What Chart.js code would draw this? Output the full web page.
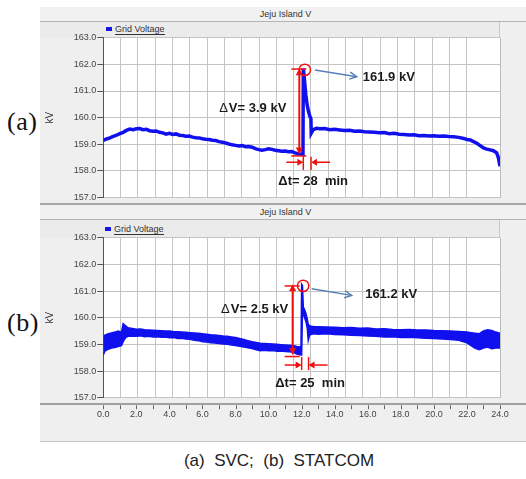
<!DOCTYPE html>
<html><head><meta charset="utf-8">
<script src="https://cdn.jsdelivr.net/npm/chart.js@4/dist/chart.umd.min.js"></script>
<style>
html,body{margin:0;padding:0;background:#fff;}
body{width:526px;height:479px;position:relative;overflow:hidden;font-family:"Liberation Sans",Arial,sans-serif;}
.abs{position:absolute;}
#frame{left:40px;top:7px;width:486px;height:434px;background:#efefef;border-bottom:1px solid #c4c4c4;}
.title{left:40px;width:486px;height:14px;line-height:14px;font-size:9px;color:#333;text-align:center;border-bottom:1px solid #b4b4b4;background:#f1f1f1;text-indent:5px;}
.strip{left:40px;width:459px;background:#ebebeb;border-right:1px solid #c8c8c8;}
.sep{left:40px;width:486px;background:#a6a6a6;}
.leg{font-size:9px;color:#333;line-height:10px;}
.leg .sq{position:absolute;left:0;top:3px;width:6px;height:4px;background:#1414e6;}
.leg .tx{position:absolute;left:9px;top:0;white-space:nowrap;border-bottom:1px solid #333;}
.plabel{left:7px;font-family:"Liberation Serif","Times New Roman",serif;font-size:26px;letter-spacing:0.5px;color:#111;line-height:26px;}
#caption{left:0;width:558px;top:451px;text-align:center;font-size:17px;color:#222;white-space:pre;}
</style>
</head><body>
<div id="frame" class="abs"></div>
<div class="abs title" id="titleA" style="top:7px"></div>
<div class="abs strip" style="top:22px;height:16px"></div>
<div class="abs leg" id="legA" style="left:106px;top:24px"></div>
<div class="abs sep" style="top:203px;height:1.5px"></div>
<div class="abs title" id="titleB" style="top:205px"></div>
<div class="abs strip" style="top:220px;height:18px"></div>
<div class="abs leg" id="legB" style="left:105px;top:224px"></div>
<div class="abs sep" style="top:403px;height:2px;background:#a0a0a0"></div>
<div class="abs plabel" id="labA" style="top:109px"></div>
<div class="abs plabel" id="labB" style="top:310px"></div>
<div class="abs" style="left:40px;top:28px;width:486px;height:176px"><canvas id="cA" width="486" height="176"></canvas></div>
<div class="abs" style="left:40px;top:228px;width:486px;height:200px"><canvas id="cB" width="486" height="200"></canvas></div>
<div class="abs" id="caption"></div>
<script>
// ---------------- data ----------------
const chartTitle = 'Jeju Island V';
const seriesLabel = 'Grid Voltage';
const yAxisLabel = 'kV';
const panelLabels = ['(a)', '(b)'];
const captionText = '(a)  SVC;  (b)  STATCOM';
const peakValues = [161.9, 161.2];   // kV
const deltaV = [3.9, 2.5];           // kV
const deltaT = [28, 25];             // min
const yMin = 157, yMax = 163, xMin = 0, xMax = 24;

// (a) SVC: time (h) and grid voltage (kV)
const tA = [0.00,0.20,0.40,0.60,0.80,1.00,1.20,1.40,1.60,1.80,2.00,2.20,2.40,2.60,2.80,3.00,3.20,3.40,3.60,3.80,
  4.00,4.20,4.40,4.60,4.80,5.00,5.20,5.40,5.60,5.80,6.00,6.20,6.40,6.60,6.80,7.00,7.20,7.40,7.60,7.80,
  8.00,8.20,8.40,8.60,8.80,9.00,9.20,9.40,9.60,9.80,10.00,10.20,10.40,10.60,10.80,11.00,11.20,11.40,11.60,11.80,
  12.00,12.08,12.10,12.18,12.26,12.34,12.42,12.50,12.56,12.58,12.70,12.90,13.10,13.40,13.70,14.00,14.30,14.60,14.90,15.20,
  15.50,15.80,16.10,16.40,16.70,17.00,17.30,17.60,17.90,18.20,18.50,18.80,19.10,19.40,19.70,20.00,20.30,20.60,20.90,21.20,
  21.50,21.80,22.00,22.20,22.40,22.60,22.80,23.00,23.20,23.40,23.60,23.80,23.90,24.00];
const vA = [159.15,159.20,159.24,159.30,159.34,159.40,159.45,159.52,159.57,159.55,159.58,159.59,159.55,159.56,159.51,159.49,159.50,159.45,159.43,159.38,
  159.41,159.37,159.39,159.34,159.33,159.30,159.31,159.27,159.25,159.24,159.21,159.19,159.18,159.15,159.14,159.10,159.08,159.05,159.01,158.98,
  158.96,158.94,158.95,158.91,158.92,158.89,158.84,158.80,158.78,158.80,158.83,158.81,158.78,158.76,158.74,158.75,158.72,158.73,158.68,158.64,
  158.63,158.62,161.85,161.35,160.80,160.45,160.22,160.05,159.96,159.42,159.55,159.60,159.58,159.59,159.55,159.56,159.54,159.52,159.53,159.49,
  159.50,159.47,159.46,159.45,159.43,159.44,159.40,159.41,159.38,159.37,159.35,159.36,159.32,159.33,159.31,159.32,159.30,159.31,159.29,159.28,
  159.26,159.22,159.18,159.16,159.10,159.04,158.95,158.86,158.82,158.79,158.76,158.68,158.50,158.18];

// (b) STATCOM: time (h), lower and upper envelope of the noisy voltage band (kV)
const tB = [0.00,0.10,0.30,0.50,0.70,0.90,1.10,1.20,1.35,1.50,1.75,2.00,2.25,2.50,2.75,3.00,3.25,3.50,3.75,4.00,
  4.25,4.50,4.75,5.00,5.25,5.50,5.75,6.00,6.25,6.50,6.75,7.00,7.25,7.50,7.75,8.00,8.25,8.50,8.75,9.00,
  9.25,9.50,9.75,10.00,10.25,10.50,10.75,11.00,11.25,11.50,11.70,11.96,12.00,12.05,12.10,12.18,12.26,12.34,12.40,12.48,
  12.60,12.80,13.00,13.50,14.00,14.50,15.00,15.50,16.00,16.50,17.00,17.50,18.00,18.50,19.00,19.50,20.00,20.50,21.00,21.50,
  22.00,22.25,22.50,22.75,23.00,23.25,23.50,23.75,24.00];
const lowB = [158.60,158.75,158.82,158.86,158.88,158.92,158.95,159.10,159.25,159.30,159.31,159.30,159.32,159.29,159.30,159.28,159.29,159.27,159.28,159.25,
  159.26,159.22,159.23,159.20,159.19,159.15,159.14,159.10,159.09,159.06,159.05,159.03,159.01,159.00,158.98,158.96,158.93,158.90,158.87,158.84,
  158.80,158.76,158.78,158.76,158.77,158.74,158.75,158.73,158.72,158.70,158.64,158.60,158.60,160.20,160.15,160.00,159.85,159.60,159.15,159.35,
  159.38,159.40,159.38,159.40,159.37,159.36,159.34,159.33,159.31,159.30,159.28,159.29,159.26,159.27,159.25,159.23,159.22,159.20,159.18,159.15,
  159.06,158.95,158.85,158.80,158.86,158.90,158.84,158.86,158.86];
const highB = [159.30,159.35,159.40,159.43,159.46,159.50,159.46,159.78,159.70,159.62,159.60,159.57,159.58,159.55,159.54,159.53,159.52,159.51,159.50,159.50,
  159.48,159.47,159.46,159.45,159.44,159.43,159.42,159.40,159.38,159.36,159.35,159.33,159.31,159.30,159.28,159.26,159.22,159.18,159.14,159.10,
  159.07,159.04,159.03,159.02,159.01,159.00,158.99,158.98,158.97,158.96,158.92,158.90,161.25,161.20,160.40,160.30,160.15,159.95,159.75,159.70,
  159.68,159.66,159.66,159.65,159.64,159.62,159.63,159.60,159.61,159.58,159.59,159.56,159.55,159.56,159.54,159.54,159.52,159.51,159.50,159.48,
  159.46,159.44,159.42,159.40,159.50,159.55,159.52,159.46,159.42];

// ---------------- page text ----------------
document.getElementById('titleA').textContent = chartTitle;
document.getElementById('titleB').textContent = chartTitle;
for (const id of ['legA','legB']) {
  document.getElementById(id).innerHTML = '<span class="sq"></span><span class="tx"></span>';
  document.querySelector('#'+id+' .tx').textContent = seriesLabel;
}
document.getElementById('labA').textContent = panelLabels[0];
document.getElementById('labB').textContent = panelLabels[1];
document.getElementById('caption').textContent = captionText;

// ---------------- helpers ----------------
const FONT = '"Liberation Sans", Arial, sans-serif';
const RED = '#f01010', BLUE = '#1010ee', STEEL = '#5a7fb6', GRID = '#c4c4c4';

function head(ctx, x1, y1, x2, y2, len, half, filled) {
  const a = Math.atan2(y2 - y1, x2 - x1);
  const bx = x2 - len * Math.cos(a), by = y2 - len * Math.sin(a);
  const px = -Math.sin(a) * half, py = Math.cos(a) * half;
  ctx.beginPath();
  ctx.moveTo(bx + px, by + py); ctx.lineTo(x2, y2); ctx.lineTo(bx - px, by - py);
  if (filled) { ctx.closePath(); ctx.fill(); } else ctx.stroke();
}
function seg(ctx, x1, y1, x2, y2) { ctx.beginPath(); ctx.moveTo(x1, y1); ctx.lineTo(x2, y2); ctx.stroke(); }

const whiteArea = {
  id: 'whiteArea',
  beforeDraw(chart) {
    const {ctx, chartArea: a} = chart;
    ctx.save(); ctx.fillStyle = '#fff'; ctx.fillRect(a.left, a.top, a.right - a.left, a.bottom - a.top); ctx.restore();
  },
  afterDatasetsDraw(chart) {
    const {ctx, chartArea: a} = chart;
    ctx.save(); ctx.strokeStyle = '#bcbcbc'; ctx.lineWidth = 1;
    seg(ctx, a.right + 0.5, a.top, a.right + 0.5, a.bottom); ctx.restore();
  }
};

const hourTicks = {
  id: 'hourTicks',
  afterDraw(chart, args, o) {
    if (!o.show) return;
    const {ctx, chartArea: a} = chart; const xs = chart.scales.x;
    ctx.save(); ctx.strokeStyle = '#666'; ctx.lineWidth = 1;
    for (let h = xMin; h <= xMax; h++) {
      const x = Math.round(xs.getPixelForValue(h)) + 0.5;
      seg(ctx, x, a.bottom + 7.5, x, a.bottom + 11.5);
    }
    ctx.restore();
  }
};

const ann = {
  id: 'ann',
  afterDatasetsDraw(chart, args, o) {
    const {ctx} = chart; const xs = chart.scales.x, ys = chart.scales.y;
    const px = xs.getPixelForValue(o.tPeak), py = ys.getPixelForValue(o.vPeak);
    const by = ys.getPixelForValue(o.vBase);
    ctx.save();
    // delta V double arrow
    const ax = px + o.arrowDx;
    ctx.strokeStyle = RED; ctx.fillStyle = RED; ctx.lineWidth = 2;
    seg(ctx, ax, py + 5, ax, by - 5);
    head(ctx, ax, by, ax, py, 7, 3.5, true);
    head(ctx, ax, py, ax, by, 7, 3.5, true);
    ctx.lineWidth = 1.5;
    seg(ctx, ax - 8, py + o.tickDy, ax + 7, py + o.tickDy);
    seg(ctx, ax - 8, by + 1.5, ax + 7, by + 1.5);
    // circle at peak
    ctx.beginPath(); ctx.arc(px + 1.5, py + 1.5, 5.7, 0, Math.PI * 2); ctx.stroke();
    // pointer arrow
    ctx.strokeStyle = STEEL; ctx.lineWidth = 1.5;
    const [b1x, b1y, b2x, b2y] = o.blue;
    seg(ctx, px + b1x, py + b1y, px + b2x, py + b2y);
    head(ctx, px + b1x, py + b1y, px + b2x, py + b2y, 7, 3.5, false);
    // texts
    ctx.fillStyle = '#1a1a1a'; ctx.textBaseline = 'middle';
    ctx.font = 'bold 13px ' + FONT; ctx.textAlign = 'left';
    ctx.fillText(o.peakValue.toFixed(1) + ' kV', px + o.peakDx, py + o.peakDy);
    const rest = 'V= ' + o.dV.toFixed(1) + ' kV';
    const rw = ctx.measureText(rest).width;
    const rx = ax + o.dvDx, ry = py + o.dvDy;
    ctx.textAlign = 'right'; ctx.fillText(rest, rx, ry);
    ctx.font = '13px ' + FONT; ctx.fillText('\u0394', rx - rw - 1, ry);
    // delta t
    const x1 = xs.getPixelForValue(o.tPeak), x2 = xs.getPixelForValue(o.tPeak + o.dT / 60);
    ctx.strokeStyle = RED; ctx.fillStyle = RED; ctx.lineWidth = 1.5;
    seg(ctx, x1, by + o.dtTick[0], x1, by + o.dtTick[1]);
    seg(ctx, x2, by + o.dtTick[0], x2, by + o.dtTick[1]);
    const yy = by + o.dtArrowDy;
    seg(ctx, x1 - 17, yy, x1 - 5, yy); head(ctx, x1 - 17, yy, x1, yy, 6, 3.5, true);
    seg(ctx, x2 + 19, yy, x2 + 5, yy); head(ctx, x2 + 19, yy, x2, yy, 6, 3.5, true);
    ctx.fillStyle = '#1a1a1a'; ctx.font = 'bold 13px ' + FONT; ctx.textAlign = 'center';
    ctx.fillText('\u0394t= ' + o.dT + '  min', (x1 + x2) / 2 + o.dtTextDx, by + o.dtTextDy);
    ctx.restore();
  }
};

function peakOf(ts, vs) {
  let k = 0; vs.forEach((v, i) => { if (v > vs[k]) k = i; });
  let base = Infinity; ts.forEach((t, i) => { if (t >= ts[k] - 1 && t < ts[k]) base = Math.min(base, vs[i]); });
  return {t: ts[k], v: vs[k], base};
}

function makeChart(canvas, datasets, showX, annOpts) {
  return new Chart(canvas, {
    type: 'line',
    data: {datasets},
    plugins: [whiteArea, ann, hourTicks],
    options: {
      responsive: false, animation: false, devicePixelRatio: 1,
      layout: {padding: {left: 0, right: 26, top: 9.7, bottom: showX ? 0 : 6.3}},
      elements: {point: {radius: 0}, line: {tension: 0}},
      plugins: {legend: {display: false}, tooltip: {enabled: false}, ann: annOpts, hourTicks: {show: showX}},
      scales: {
        x: {type: 'linear', min: xMin, max: xMax, position: 'bottom',
          grid: {display: false, drawTicks: false}, border: {display: false},
          ticks: {display: showX, stepSize: 1, autoSkip: false, maxRotation: 0, padding: 11,
            font: {size: 9, family: FONT}, color: '#444',
            callback: v => (v % 2 === 0 ? v.toFixed(1) : '')},
          afterFit: s => { s.height = showX ? 30.3 : 0; }},
        xg: {type: 'linear', min: 0, max: 22.93, position: 'bottom',
          ticks: {display: false, stepSize: 1}, grid: {color: GRID, drawTicks: false},
          border: {display: false}, afterFit: s => { s.height = 0; }},
        y: {min: yMin, max: yMax,
          ticks: {stepSize: 1, padding: 1, font: {size: 9, family: FONT}, color: '#444', callback: v => v.toFixed(1)},
          grid: {color: GRID, tickColor: '#555', tickLength: 6},
          border: {color: '#555', width: 1},
          title: {display: true, text: yAxisLabel, font: {size: 10, family: FONT}, color: '#333', padding: {top: 4, bottom: 0}},
          afterFit: s => { s.width = 63.3; }}
      }
    }
  });
}

const pA = peakOf(tA, vA);
makeChart(document.getElementById('cA'), [{
  label: seriesLabel, data: tA.map((t, i) => ({x: t, y: vA[i]})),
  borderColor: BLUE, borderWidth: 3.5, fill: false, xAxisID: 'x', yAxisID: 'y'
}], false, {
  tPeak: pA.t, vPeak: pA.v, vBase: pA.base, peakValue: peakValues[0], dV: deltaV[0], dT: deltaT[0],
  arrowDx: -4, tickDy: 0.7, blue: [11.7, 1.7, 53.4, 8.4], peakDx: 59.5, peakDy: 9.4,
  dvDx: -13, dvDy: 40, dtTick: [2.2, 15.5], dtArrowDy: 7.8, dtTextDx: 6, dtTextDy: 26.5
});

const pB = peakOf(tB, highB);
pB.base = Math.min(...lowB.filter((v, i) => tB[i] >= pB.t - 1 && tB[i] <= pB.t));
makeChart(document.getElementById('cB'), [
  {label: seriesLabel, data: tB.map((t, i) => ({x: t, y: lowB[i]})),
   borderColor: BLUE, borderWidth: 1.5, fill: false, xAxisID: 'x', yAxisID: 'y'},
  {label: seriesLabel, data: tB.map((t, i) => ({x: t, y: highB[i]})),
   borderColor: BLUE, borderWidth: 1.5, backgroundColor: BLUE, fill: '-1', xAxisID: 'x', yAxisID: 'y'}
], true, {
  tPeak: pB.t, vPeak: pB.v, vBase: pB.base, peakValue: peakValues[1], dV: deltaV[1], dT: deltaT[1],
  arrowDx: -9, tickDy: 1.6, blue: [10, 4.3, 50, 11], peakDx: 63.5, peakDy: 10,
  dvDx: -4.4, dvDy: 25, dtTick: [2, 15], dtArrowDy: 10, dtTextDx: 5, dtTextDy: 28.3
});
</script>
</body></html>
